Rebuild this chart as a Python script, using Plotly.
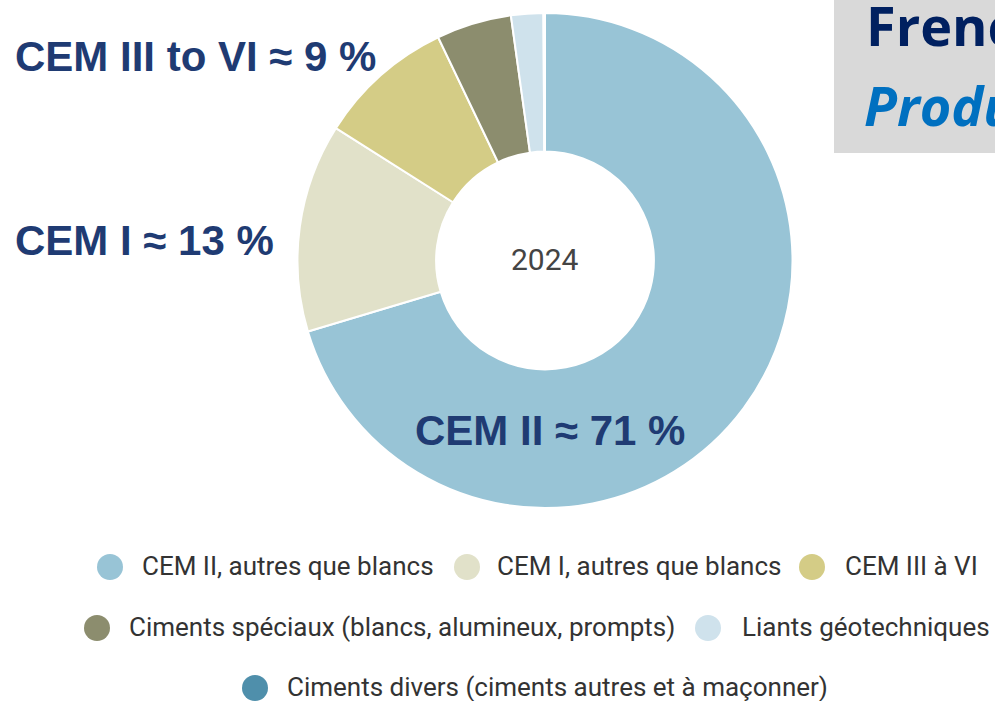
import plotly.graph_objects as go

# ---- data ----
labels = [
    "CEM II, autres que blancs",
    "CEM I, autres que blancs",
    "CEM III à VI",
    "Ciments spéciaux (blancs, alumineux, prompts)",
    "Liants géotechniques",
    "Ciments divers (ciments autres et à maçonner)",
]
values = [70.3, 13.6, 8.9, 4.9, 2.1, 0.1]
colors = ["#98c4d6", "#e1e1c9", "#d4cc86", "#8c8d6e", "#cfe2ec", "#4f8fab"]
center_label = "2024"
callouts = ["CEM II ≈ 71 %", "CEM I ≈ 13 %", "CEM III to VI ≈ 9 %"]
title_lines = ["French cement market", "Production by cement type"]

W, H = 995, 701


def px(x):
    return x / W


def py(y):
    return 1 - y / H


# pie geometry (pixels)
cx, cy, R = 545, 260.5, 247.5

fig = go.Figure()
fig.add_trace(go.Pie(
    labels=labels,
    values=values,
    hole=0.44,
    sort=False,
    direction="clockwise",
    rotation=0,
    marker=dict(colors=colors, line=dict(color="white", width=2)),
    textinfo="none",
    hoverinfo="label+percent",
    showlegend=False,
    domain=dict(x=[px(cx - R), px(cx + R)], y=[py(cy + R), py(cy - R)]),
))

annotations = []
shapes = []

# centre label
annotations.append(dict(
    text=center_label, x=px(cx), y=py(259), xref="paper", yref="paper",
    xanchor="center", yanchor="middle", showarrow=False,
    font=dict(family="Roboto", size=30, color="#444444"),
))

# callout labels (bold navy)
callout_pos = [(413, 430), (13, 240), (13, 57)]
for txt, (x, y) in zip(callouts, callout_pos):
    annotations.append(dict(
        text=txt, x=px(x), y=py(y), xref="paper", yref="paper",
        xanchor="left", yanchor="middle", showarrow=False,
        font=dict(family="Liberation Sans", size=42, color="#1f3b73", weight="bold"),
    ))

# custom legend (rows)
legend_rows = [
    (567, [(0, 110, 140), (1, 467, 495), (2, 812, 843)]),
    (628, [(3, 97, 127), (4, 708, 740)]),
    (688, [(5, 255, 285)]),
]
r = 13
for y, items in legend_rows:
    for idx, ccx, tx in items:
        shapes.append(dict(
            type="circle", xref="paper", yref="paper",
            x0=px(ccx - r), x1=px(ccx + r), y0=py(y + r), y1=py(y - r),
            fillcolor=colors[idx], line=dict(width=0),
        ))
        annotations.append(dict(
            text=labels[idx], x=px(tx), y=py(y - 1), xref="paper", yref="paper",
            xanchor="left", yanchor="middle", showarrow=False,
            font=dict(family="Roboto", size=26, color="#333333"),
        ))

# title box (top right, partially out of frame)
shapes.append(dict(
    type="rect", xref="paper", yref="paper",
    x0=px(834), x1=px(1100), y0=py(153), y1=py(-10),
    fillcolor="#d9d9d9", line=dict(width=0), layer="below",
))
annotations.append(dict(
    text=f"<b>{title_lines[0]}</b>", x=px(864), y=py(25), xref="paper", yref="paper",
    xanchor="left", yanchor="middle", showarrow=False,
    font=dict(family="Open Sans", size=54, color="#002060"),
))
annotations.append(dict(
    text=f"<b><i>{title_lines[1]}</i></b>", x=px(862), y=py(105), xref="paper", yref="paper",
    xanchor="left", yanchor="middle", showarrow=False,
    font=dict(family="Open Sans", size=54, color="#0070c0"),
))

fig.update_layout(
    width=W, height=H,
    margin=dict(l=0, r=0, t=0, b=0),
    paper_bgcolor="white", plot_bgcolor="white",
    annotations=annotations, shapes=shapes,
)

fig.write_html(
    "out.html",
    config={"displayModeBar": False},
    post_script="document.body.style.margin='0px';",
)
